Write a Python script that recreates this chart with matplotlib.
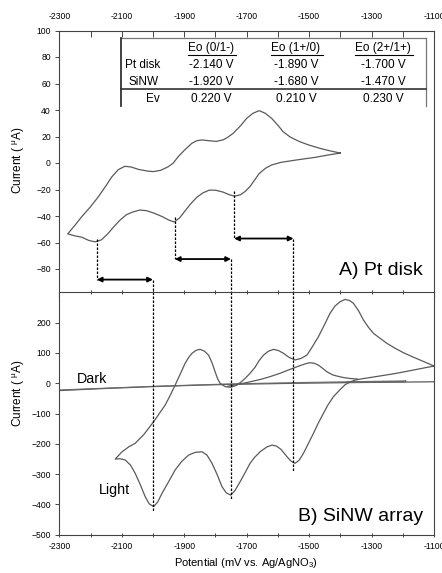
import matplotlib
matplotlib.use("Agg")
import matplotlib.pyplot as plt
from matplotlib.lines import Line2D

plt.rcParams['font.family'] = ['Liberation Sans', 'DejaVu Sans']
plt.rcParams['mathtext.fontset'] = 'custom'
plt.rcParams['mathtext.rm'] = 'Liberation Sans'

# ---------------- data ----------------
# Panel A (Pt disk) cyclic voltammogram: cathodic branch (right -> left) then anodic branch (left -> right)
pt_cath_x = [-1400, -1440, -1480, -1540, -1590, -1620, -1640, -1660, -1675, -1690, -1705, -1720, -1738,
             -1755, -1775, -1800, -1820, -1840, -1860, -1880, -1900, -1915, -1932, -1950, -1970, -1995,
             -2020, -2042, -2065, -2085, -2105, -2125, -2145, -2165, -2185, -2205, -2228, -2250, -2273]
pt_cath_y = [7.5, 6, 4.3, 2.3, 0.5, -1.5, -4, -8, -13, -18, -21.5, -24, -25,
             -24, -22, -20.5, -20.5, -22.5, -26, -31, -37, -41.5, -44.5, -43, -40.5, -38,
             -36, -35.5, -37, -39, -43, -48, -53.5, -58, -59.5, -58.5, -56, -55, -53.5]
pt_anod_x = [-2273, -2250, -2228, -2200, -2175, -2150, -2132, -2111, -2090, -2070, -2047, -2020, -1999,
             -1975, -1951, -1935, -1919, -1900, -1876, -1860, -1844, -1820, -1797, -1775, -1760, -1743,
             -1720, -1700, -1680, -1660, -1640, -1620, -1600, -1583, -1560, -1530, -1500, -1466, -1430, -1400]
pt_anod_y = [-53.5, -47, -40.5, -33, -25.5, -17, -10.5, -5, -2.5, -3, -4.8, -6, -6.5,
             -5.5, -2.8, 0, 4.8, 9.5, 14.8, 16.8, 17.4, 16.8, 16.3, 17.5, 19.5, 22.4,
             28, 33.7, 37.5, 39.5, 37.5, 33.7, 28.5, 23.6, 19.5, 16.1, 13.5, 11.1, 9, 7.5]

# Panel B (SiNW array) under light
li_cath_x = [-1100, -1160, -1220, -1280, -1330, -1355, -1370, -1385, -1400, -1422, -1440, -1454, -1470,
             -1486, -1502, -1518, -1532, -1545, -1558, -1571, -1590, -1605, -1619, -1635, -1657, -1675,
             -1689, -1705, -1721, -1738, -1751, -1765, -1779, -1795, -1811, -1827, -1843, -1865, -1886,
             -1908, -1929, -1950, -1971, -1985, -1998, -2012, -2025, -2040, -2057, -2072, -2089, -2105, -2121]
li_cath_y = [57, 45, 33, 23, 15, 10, 4, -5, -20, -44, -72, -99, -130,
             -165, -198, -231, -254, -264, -257, -242, -218, -207, -204, -210, -226, -245,
             -264, -295, -325, -355, -369, -362, -341, -300, -264, -237, -226, -228, -237,
             -258, -286, -325, -363, -392, -407, -398, -374, -336, -297, -270, -253, -249, -250]
li_anod_x = [-2121, -2110, -2099, -2078, -2057, -2030, -1998, -1980, -1961, -1945, -1929, -1913, -1897,
             -1886, -1875, -1862, -1849, -1835, -1822, -1811, -1801, -1793, -1785, -1769, -1751, -1731,
             -1716, -1705, -1689, -1673, -1660, -1646, -1630, -1614, -1598, -1582, -1565, -1545, -1526,
             -1507, -1490, -1470, -1450, -1433, -1417, -1401, -1385, -1370, -1358, -1342, -1326, -1310,
             -1294, -1272, -1251, -1225, -1198, -1170, -1145, -1120, -1100]
li_anod_y = [-250, -238, -226, -210, -198, -170, -127, -100, -72, -40, -6, 30, 66,
             85, 99, 109, 112, 106, 93, 68, 38, 15, 0, -11, -13, -6,
             6, 16, 33, 53, 75, 93, 106, 112, 108, 99, 86, 77, 82,
             93, 120, 154, 195, 231, 255, 269, 277, 273, 264, 240, 209, 185,
             165, 148, 132, 116, 101, 88, 77, 66, 57]
li_hump_x = [-1760, -1720, -1689, -1655, -1625, -1593, -1561, -1530, -1510, -1497, -1483, -1470, -1455,
             -1443, -1425, -1411, -1390, -1369, -1345]
li_hump_y = [-10, -2, 5, 13, 22, 33, 46, 58, 65, 68, 66, 60, 48,
             38, 28, 24, 19, 16, 14]

# Panel B in the dark
dk_a_x = [-2300, -2150, -2000, -1850, -1750, -1550, -1350, -1100]
dk_a_y = [-24, -17, -11, -6, -3.5, 0, 2.5, 5]
dk_b_x = [-2300, -2000, -1750, -1500, -1190, -1195, -1380]
dk_b_y = [-22, -10, -2, 3, 8, 4.5, 3]

# Formal potentials (mV) used for guide lines / arrows
e_pt = [-2180, -1930, -1740]
e_si = [-2000, -1750, -1550]
guide_top_y = [-57, -41, -21]       # where dashed lines leave the Pt curve
arrow_y = [-88, -72.5, -57]         # arrow levels in panel A
guide_bottom_y = [-425, -385, -293] # lower end of dashed lines in panel B

x_ticks = [-2300, -2100, -1900, -1700, -1500, -1300, -1100]
ya_ticks = [-80, -60, -40, -20, 0, 20, 40, 60, 80, 100]
yb_ticks = [-500, -400, -300, -200, -100, 0, 100, 200]

table_cols = ['Eo (0/1-)', 'Eo (1+/0)', 'Eo (2+/1+)']
table_pt = ['-2.140 V', '-1.890 V', '-1.700 V']
table_si = ['-1.920 V', '-1.680 V', '-1.470 V']
table_ev = ['0.220 V', '0.210 V', '0.230 V']

# ---------------- figure ----------------
W, H = 442, 573
fig = plt.figure(figsize=(W / 100, H / 100), dpi=100)

def fx(px):
    return px / W

def fy(py):
    return 1 - py / H

L, R = 59.3, 434.0
axA = fig.add_axes([fx(L), fy(295.5), fx(R) - fx(L), fy(30.5) - fy(295.5)])
axB = fig.add_axes([fx(L), fy(534.8), fx(R) - fx(L), fy(292.4) - fy(534.8)])

curve_kw = dict(color='#5a5a5a', lw=0.9)
axA.plot(pt_cath_x + pt_anod_x, pt_cath_y + pt_anod_y, **curve_kw)
axB.plot(dk_a_x, dk_a_y, **curve_kw)
axB.plot(dk_b_x, dk_b_y, color='#6a6a6a', lw=0.8)
axB.plot(li_cath_x + li_anod_x, li_cath_y + li_anod_y, **curve_kw)
axB.plot(li_hump_x, li_hump_y, **curve_kw)

dash_kw = dict(color='black', lw=0.9, linestyle=(0, (2, 1.2)))
for xp, xs, yt, ya, yb in zip(e_pt, e_si, guide_top_y, arrow_y, guide_bottom_y):
    axA.plot([xp, xp], [yt, ya], **dash_kw)
    axA.plot([xs, xs], [ya, -100], **dash_kw)
    axB.plot([xs, xs], [300, yb], **dash_kw)
    axA.annotate('', xy=(xs, ya), xytext=(xp, ya),
                 arrowprops=dict(arrowstyle='<|-|>', color='black', lw=1.3,
                                 mutation_scale=7, shrinkA=0, shrinkB=0))

for ax in (axA, axB):
    ax.set_xlim(-2300, -1100)
    ax.set_xticks(x_ticks)
    ax.set_xticks(list(range(-2300, -1099, 100)), minor=True)
    for s in ax.spines.values():
        s.set_color('#444444')
        s.set_linewidth(0.8)
    ax.tick_params(axis='y', direction='out', length=3, width=0.7, colors='#444444',
                   labelcolor='black', labelsize=6.2, pad=3, right=False)
    ax.tick_params(axis='x', which='both', width=0.7, colors='#444444', labelcolor='black',
                   labelsize=6.2)

axA.set_ylim(-100, 100)
axA.set_yticks(ya_ticks)
axA.tick_params(axis='x', which='both', top=True, bottom=False, labeltop=True, labelbottom=False,
                direction='in', length=4, pad=7)
axA.set_xticklabels([str(v) for v in x_ticks])

axB.set_ylim(-500, 300)
axB.set_yticks(yb_ticks)
axB.tick_params(axis='x', which='both', top=True, bottom=True, labeltop=False, labelbottom=True,
                direction='out', length=3, pad=4)
axB.tick_params(axis='x', which='both', top=True, direction='inout')
axB.set_xticklabels([str(v) for v in x_ticks])

# labels
ylab = 'Current ( $^{\\mathregular{\u03bc}}$A)'
fig.text(fx(19), fy(160), ylab, rotation=90, ha='center', va='center', fontsize=8.5)
fig.text(fx(19), fy(393), ylab, rotation=90, ha='center', va='center', fontsize=8.5)
fig.text(fx(246), fy(563), 'Potential (mV vs. Ag/AgNO$_3$)', ha='center', va='center', fontsize=8)

axA.text(-1135, -81, 'A) Pt disk', ha='right', va='center', fontsize=14)
axB.text(-1135, -440, 'B) SiNW array', ha='right', va='center', fontsize=14)
axB.text(-2245, 14, 'Dark', ha='left', va='center', fontsize=10.3)
axB.text(-2172, -352, 'Light', ha='left', va='center', fontsize=10.3)

# inset table (figure pixel coordinates)
bx0, by0, bx1, by1 = 120.7, 38.3, 426.0, 106.0
fig.add_artist(Line2D([fx(bx0), fx(bx1)], [fy(by0), fy(by0)], color='#777777', lw=0.9))
fig.add_artist(Line2D([fx(bx0), fx(bx0)], [fy(by0), fy(by1)], color='#333333', lw=1.3))
fig.add_artist(Line2D([fx(bx1), fx(bx1)], [fy(by0), fy(by1)], color='#777777', lw=0.9))
fig.add_artist(Line2D([fx(bx0), fx(bx1)], [fy(89.3), fy(89.3)], color='#333333', lw=1.2))

col_x = [211, 296, 383]
row_y = [48.5, 65, 82, 98.5]
tfs = 8.5
for cx, head, a, b, c in zip(col_x, table_cols, table_pt, table_si, table_ev):
    t = fig.text(fx(cx), fy(row_y[0]), head, ha='center', va='center', fontsize=tfs)
    fig.text(fx(cx), fy(row_y[1]), a, ha='center', va='center', fontsize=tfs)
    fig.text(fx(cx), fy(row_y[2]), b, ha='center', va='center', fontsize=tfs)
    fig.text(fx(cx), fy(row_y[3]), c, ha='center', va='center', fontsize=tfs)
fig.canvas.draw()
renderer = fig.canvas.get_renderer()
for t in list(fig.texts):
    if t.get_text() in table_cols:
        bb = t.get_window_extent(renderer)
        x0, x1 = bb.x0 / W, bb.x1 / W
        yl = bb.y0 / H - 0.8 / H
        fig.add_artist(Line2D([x0, x1 + 2 / W], [yl, yl], color='black', lw=0.8))

fig.text(fx(125), fy(row_y[1]), 'Pt disk', ha='left', va='center', fontsize=tfs)
fig.text(fx(159), fy(row_y[2]), 'SiNW', ha='right', va='center', fontsize=tfs)
fig.text(fx(160), fy(row_y[3]), 'Ev', ha='right', va='center', fontsize=tfs)

fig.savefig('out.png', dpi=100)
